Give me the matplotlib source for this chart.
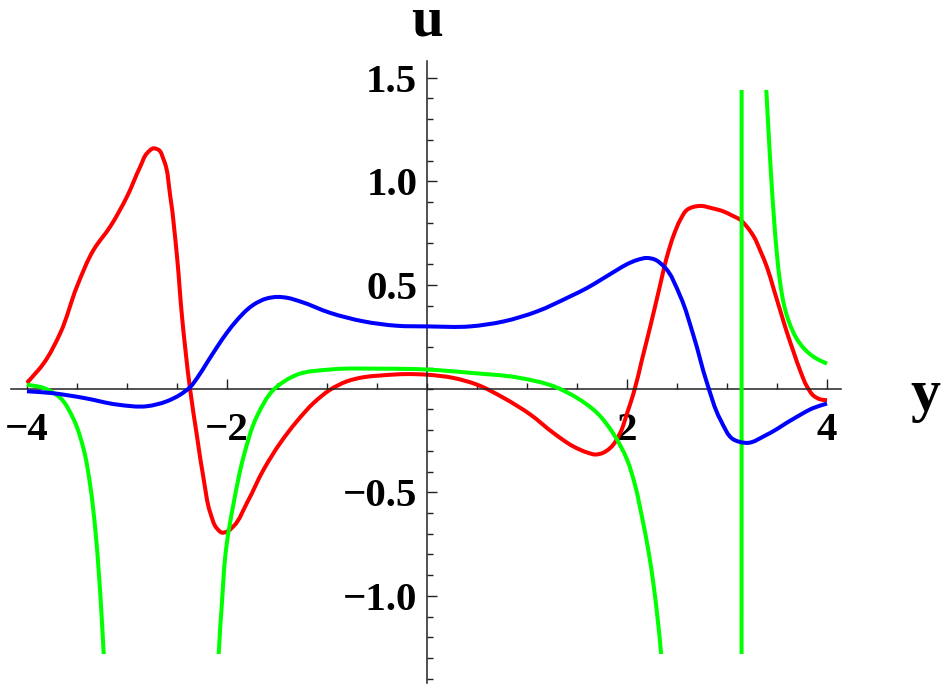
import matplotlib
matplotlib.use("Agg")
import matplotlib.pyplot as plt
from matplotlib.patches import Rectangle, PathPatch
from matplotlib.path import Path
from matplotlib.ticker import FixedLocator, MultipleLocator, FixedFormatter
import numpy as np

# ---- data ----
red_x = [-4.0, -3.83, -3.667, -3.5, -3.333, -3.167, -3.0, -2.867, -2.80, -2.733, -2.683,
         -2.633, -2.567, -2.5, -2.45, -2.37, -2.3, -2.233, -2.167, -2.1, -2.05,
         -2.0, -1.933, -1.8, -1.633, -1.467, -1.3, -1.133, -0.967, -0.8, -0.633, -0.467, -0.2, 0.0,
         0.267, 0.5, 0.767, 1.033, 1.267, 1.467, 1.60, 1.683, 1.76, 1.833, 1.933, 2.0, 2.067,
         2.15, 2.233, 2.317, 2.4, 2.467, 2.533, 2.6, 2.733, 2.85, 2.967, 3.05, 3.133, 3.2, 3.267,
         3.333, 3.4, 3.467, 3.533, 3.6, 3.667, 3.733, 3.8, 3.867, 3.933, 4.0]
red_y = [0.027, 0.124, 0.268, 0.493, 0.67, 0.782, 0.926, 1.071, 1.135, 1.159, 1.151,
         1.103, 0.926, 0.637, 0.348, 0.0, -0.23, -0.438, -0.599, -0.675, -0.695,
         -0.69, -0.663, -0.551, -0.39, -0.262, -0.157, -0.069, -0.005, 0.035, 0.055, 0.063, 0.07, 0.067,
         0.051, 0.019, -0.045, -0.125, -0.215, -0.28, -0.308, -0.318, -0.31, -0.286, -0.213, -0.12, -0.02,
         0.14, 0.30, 0.47, 0.637, 0.74, 0.814, 0.862, 0.881, 0.87, 0.854, 0.835, 0.814, 0.78, 0.734,
         0.665, 0.585, 0.48, 0.375, 0.27, 0.175, 0.085, 0.01, -0.035, -0.052, -0.056]

blue_x = [-4.0, -3.767, -3.433, -3.1, -2.8, -2.6, -2.467, -2.367, -2.3, -2.2, -2.1, -2.0, -1.9,
          -1.8, -1.733, -1.6, -1.5, -1.4, -1.267, -0.967, -0.633, -0.3, 0.0, 0.433, 0.767, 1.1,
          1.433, 1.6, 1.75, 1.9, 2.0, 2.1, 2.2, 2.28, 2.367, 2.533, 2.667, 2.8, 2.933, 3.067,
          3.2, 3.4, 3.667, 3.867, 4.0]
blue_y = [-0.013, -0.021, -0.045, -0.077, -0.085, -0.061, -0.029, 0.008, 0.05, 0.125, 0.2, 0.27, 0.33,
          0.38, 0.405, 0.435, 0.442, 0.438, 0.42, 0.365, 0.324, 0.303, 0.30, 0.30, 0.324, 0.372,
          0.445, 0.485, 0.528, 0.572, 0.60, 0.62, 0.63, 0.622, 0.59, 0.445, 0.252, 0.027, -0.149, -0.246,
          -0.262, -0.222, -0.145, -0.093, -0.072]

green_x = [-4.0, -3.833, -3.667, -3.533, -3.433, -3.367, -3.317, -3.283, -3.25, -3.233, -3.21,
           -3.19, -2.65, -2.12, -2.1, -2.083, -2.05, -2.017, -2.0, -1.933, -1.833, -1.70, -1.533,
           -1.3, -0.967, -0.467, 0.0, 0.433, 0.933, 1.267, 1.5, 1.70, 1.867, 2.0, 2.083, 2.15,
           2.217, 2.267, 2.307, 2.34, 2.37, 2.45, 2.7, 3.0, 3.14, 3.152, 3.3, 3.393, 3.42,
           3.44, 3.467, 3.5, 3.533, 3.567, 3.6, 3.65, 3.7, 3.767, 3.833, 3.9, 3.983, 4.0]
green_y = [0.019, 0.003, -0.045, -0.149, -0.294, -0.47, -0.679, -0.88, -1.129, -1.281, -2.0,
           -3.0, -9.0, -2.5, -1.6, -1.28, -1.03, -0.808, -0.74, -0.551, -0.326, -0.133, -0.005,
           0.067, 0.092, 0.096, 0.092, 0.076, 0.051, 0.011, -0.045, -0.117, -0.22, -0.342, -0.47, -0.62,
           -0.79, -0.952, -1.113, -1.273, -1.5, -2.2, -4.0, -8.0, -30.0, 30.0, 5.0, 1.44, 1.20,
           1.035, 0.84, 0.645, 0.505, 0.41, 0.35, 0.285, 0.238, 0.195, 0.165, 0.143, 0.124, 0.12]

x_major = [-4, -2, 2, 4]
x_labels = ["\u22124", "\u22122", "2", "4"]
y_major = [-1.0, -0.5, 0.5, 1.0, 1.5]
y_labels = ["\u22121.0", "\u22120.5", "0.5", "1.0", "1.5"]

plot_range = (-1.28, 1.44)


def smooth_path(xs, ys, sx=100.0, sy=207.6, limit=1.6):
    """Smooth Bezier path through the read points (straight where off-range)."""
    P = np.column_stack([xs, ys]).astype(float)
    n = len(P)
    Q = P * np.array([sx, sy])
    d = np.hypot(*np.diff(Q, axis=0).T)
    off = np.abs(P[:, 1]) > limit
    curved = ~(off[:-1] | off[1:])
    m = np.zeros_like(P)
    for i in range(n):
        left = i > 0 and curved[i - 1]
        right = i < n - 1 and curved[i]
        if left and right:
            a = (P[i] - P[i - 1]) / d[i - 1]
            b = (P[i + 1] - P[i]) / d[i]
            m[i] = (a * d[i] + b * d[i - 1]) / (d[i - 1] + d[i])
        elif right:
            m[i] = (P[i + 1] - P[i]) / d[i]
        elif left:
            m[i] = (P[i] - P[i - 1]) / d[i - 1]
    verts = [P[0]]
    codes = [Path.MOVETO]
    for i in range(n - 1):
        if curved[i]:
            verts += [P[i] + m[i] * d[i] / 3, P[i + 1] - m[i + 1] * d[i] / 3, P[i + 1]]
            codes += [Path.CURVE4] * 3
        else:
            verts.append(P[i + 1])
            codes.append(Path.LINETO)
    return Path(np.array(verts), codes)


# ---- figure ----
W, H = 941, 686
fig = plt.figure(figsize=(W / 100, H / 100), dpi=100)
ax = fig.add_axes([11 / W, 1 - 683 / H, (841 - 11) / W, (683 - 61) / H])
ax.set_xlim(-4.16, 4.14)
ax.set_ylim(-1.42, 1.58)

clip = Rectangle((-4.16, plot_range[0]), 8.3, plot_range[1] - plot_range[0],
                 transform=ax.transData, facecolor="none", edgecolor="none")
ax.add_patch(clip)

lw = 2.9
for xs, ys, col, z in [(red_x, red_y, "#ff0000", 2), (green_x, green_y, "#00ff00", 3),
                       (blue_x, blue_y, "#0000ff", 4)]:
    patch = PathPatch(smooth_path(xs, ys), facecolor="none", edgecolor=col, lw=lw,
                      capstyle="butt", joinstyle="round", zorder=z)
    ax.add_patch(patch)
    patch.set_clip_path(clip)

for side in ["top", "right"]:
    ax.spines[side].set_visible(False)
ax.spines["left"].set_position(("data", 0))
ax.spines["bottom"].set_position(("data", 0))
for side in ["left", "bottom"]:
    ax.spines[side].set_linewidth(1.1)
    ax.spines[side].set_color("#222222")

ax.xaxis.set_major_locator(FixedLocator(x_major))
ax.xaxis.set_major_formatter(FixedFormatter(x_labels))
ax.xaxis.set_minor_locator(MultipleLocator(0.5))
ax.yaxis.set_major_locator(FixedLocator(y_major))
ax.yaxis.set_major_formatter(FixedFormatter(y_labels))
ax.yaxis.set_minor_locator(MultipleLocator(0.1))

ax.tick_params(axis="both", which="both", direction="in", color="#222222")
ax.tick_params(axis="both", which="major", length=7.5, width=1.0)
ax.tick_params(axis="both", which="minor", length=4.5, width=1.0)
ax.tick_params(axis="x", which="major", pad=17)
ax.tick_params(axis="y", which="major", pad=7)
for lab in ax.get_xticklabels() + ax.get_yticklabels():
    lab.set_fontfamily("Liberation Serif")
    lab.set_fontweight("bold")
    lab.set_fontsize(29.5)

ax.patch.set_visible(False)

fig.text(427 / W, 1 - 35 / H, "u", ha="center", va="baseline",
         family="Liberation Serif", weight="bold", size=41)
fig.text(925 / W, 1 - 410 / H, "y", ha="center", va="baseline",
         family="Liberation Serif", weight="bold", size=43)

fig.savefig("out.png", dpi=100)
